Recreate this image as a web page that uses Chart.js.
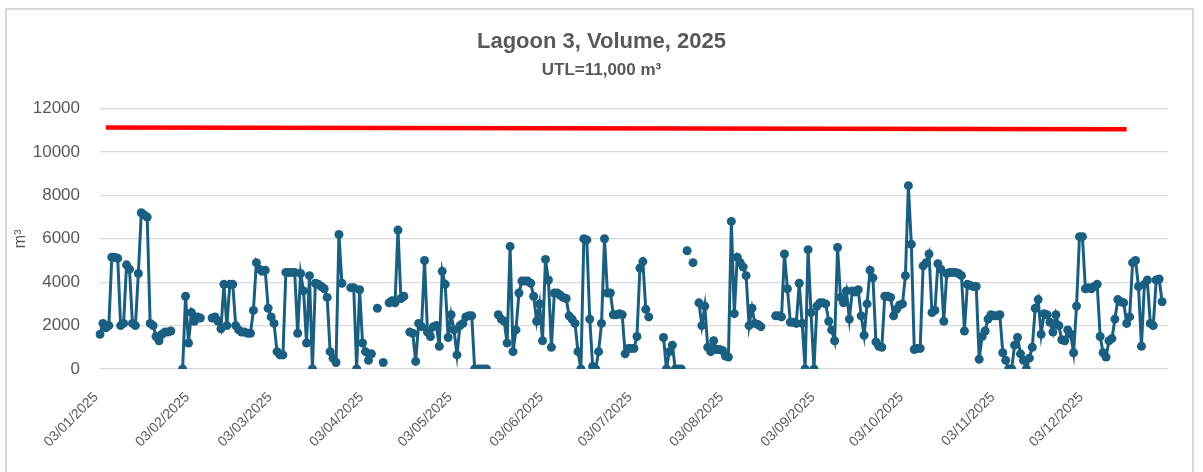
<!DOCTYPE html>
<html><head><meta charset="utf-8">
<script src="https://cdn.jsdelivr.net/npm/chart.js@4.4.1/dist/chart.umd.min.js"></script>
<style>
html,body{margin:0;padding:0;background:#fff;}
#wrap{position:relative;width:1203px;height:472px;overflow:hidden;}
#frame{position:absolute;left:5px;top:8px;width:1189px;height:480px;border:2px solid #d9d9d9;pointer-events:none;box-sizing:border-box;}
canvas{position:absolute;left:0;top:0;}
</style></head><body>
<div id="wrap"><canvas id="c" width="1203" height="472"></canvas><div id="frame"></div></div>
<script>
// ---- data ----
const chartTitle = 'Lagoon 3, Volume, 2025';
const chartSubtitle = 'UTL=11,000 m³';
const yAxisTitle = 'm³';
const axisStartYear = 2025, axisStartMonth = 1, axisStartDay = 3, axisDayCount = 363;
const monthTickLabels = ['03/01/2025','03/02/2025','03/03/2025','03/04/2025','03/05/2025','03/06/2025',
  '03/07/2025','03/08/2025','03/09/2025','03/10/2025','03/11/2025','03/12/2025'];
const yTicks = [0, 2000, 4000, 6000, 8000, 10000, 12000];
// daily volume (m3), starting 03/01/2025, null = no reading
const volumeM3 = [
  1600,2100,1900,2000,5150,5150,5100,2000,2100,4800,
  4600,2100,2000,4400,7200,7100,7000,2100,2000,1500,
  1300,1600,1700,1700,1750,null,null,null,0,3350,
  1200,2600,2200,2400,2350,null,null,null,2350,2400,
  2200,1850,3900,2000,3900,3900,2000,1800,1700,1700,
  1650,1650,2700,4900,4600,4500,4550,2800,2400,2100,
  800,650,650,4450,4450,4450,4450,1650,4400,3600,
  1200,4300,0,3950,3900,3800,3700,3300,800,500,
  300,6200,3950,null,null,3750,3750,0,3650,1200,
  800,400,700,null,2800,null,300,null,3050,3150,
  3050,6400,3250,3350,null,1700,1650,350,2100,1950,
  5000,1700,1500,1950,2000,1050,4500,3900,1450,2500,
  1800,650,2000,2100,2400,2450,2450,0,0,0,
  0,0,null,null,null,2500,2300,2200,1200,5650,
  800,1800,3500,4050,4050,4050,3950,3350,2200,3000,
  1300,5050,4100,1000,3500,3500,3400,3300,3250,2450,
  2300,2100,800,0,6000,5950,2300,120,0,800,
  2100,6000,3500,3500,2500,2500,2550,2500,700,950,
  950,950,1500,4650,4950,2750,2400,null,null,null,
  null,1450,0,800,1100,0,0,0,null,5450,
  null,4900,null,3050,2000,2900,1000,800,1300,900,
  900,850,600,550,6800,2550,5150,4900,4700,4300,
  2000,2800,2100,2050,1950,null,null,null,null,2450,
  2450,2400,5300,3700,2150,2150,2100,3950,2100,0,
  5500,2600,0,2900,3050,3050,3000,2200,1800,1300,
  5600,3300,3050,3600,2300,3600,3550,3650,2450,1550,
  3000,4550,4200,1250,1050,1000,3350,3350,3300,2450,
  2750,2950,3000,4300,8450,5750,900,950,950,4750,
  4900,5300,2600,2700,4850,4600,2200,4400,4450,4450,
  4450,4400,4300,1750,3900,3850,3800,3800,450,1500,
  1750,2300,2500,2450,2450,2500,750,400,0,0,
  1100,1450,700,400,0,500,1000,2800,3200,1600,
  2550,2500,2150,1700,2500,2000,1350,1300,1800,1600,
  750,2900,6100,6100,3700,3750,3700,3800,3900,1500,
  750,550,1300,1400,2300,3200,3100,3050,2100,2400,
  4900,5000,3800,1050,3900,4100,2100,2000,4100,4150,
  3100
];
// UTL reference line as drawn (start / end)
const utlDates = ['05/01/2025', '17/12/2025'];
const utlValues = [11130, 11050];

// ---- build categories ----
const pad2 = n => String(n).padStart(2, '0');
const categories = [];
for (let i = 0; i < axisDayCount; i++) {
  const d = new Date(Date.UTC(axisStartYear, axisStartMonth - 1, axisStartDay + i));
  categories.push(pad2(d.getUTCDate()) + '/' + pad2(d.getUTCMonth() + 1) + '/' + d.getUTCFullYear());
}

const FONT = '"Liberation Sans", Arial, "DejaVu Sans", sans-serif';
const GREY = '#595959';
const BLUE = '#1A5F80';

// centre title blocks over the whole canvas (as in the original chart)
const centerTitles = {
  id: 'centerTitles',
  afterLayout(chart) {
    chart.boxes.forEach(b => {
      if (b.position === 'top' && b.options && b.options.text !== undefined) {
        b.left = 0; b.right = chart.width; b.width = chart.width;
      }
    });
  }
};

new Chart(document.getElementById('c'), {
  type: 'line',
  data: {
    labels: categories,
    datasets: [
      {
        label: 'Volume',
        data: volumeM3,
        borderColor: BLUE,
        backgroundColor: BLUE,
        borderWidth: 3,
        pointRadius: 4.5,
        pointBorderWidth: 0,
        pointBackgroundColor: BLUE,
        spanGaps: false,
        tension: 0
      },
      {
        label: 'UTL',
        data: utlDates.map((d, i) => ({ x: d, y: utlValues[i] })),
        borderColor: '#FF0000',
        borderWidth: 4.5,
        pointRadius: 0,
        spanGaps: true,
        tension: 0
      }
    ]
  },
  plugins: [centerTitles],
  options: {
    responsive: false,
    animation: false,
    layout: { padding: { top: 10, left: 0, right: 35, bottom: 0 } },
    plugins: {
      legend: { display: false },
      tooltip: { enabled: false },
      title: {
        display: true, text: chartTitle, color: GREY,
        font: { family: FONT, size: 22, weight: 'bold' },
        padding: { top: 18.8, bottom: 0 }
      },
      subtitle: {
        display: true, text: chartSubtitle, color: GREY,
        font: { family: FONT, size: 17, weight: 'bold' },
        padding: { top: 5, bottom: 28 }
      }
    },
    scales: {
      x: {
        type: 'category',
        offset: false,
        grid: { display: false },
        border: { display: false },
        afterFit: s => { s.height = 103; },
        ticks: {
          autoSkip: false,
          minRotation: 45, maxRotation: 45,
          padding: 12,
          labelOffset: -4,
          color: GREY,
          font: { family: FONT, size: 14 },
          callback: function (v) {
            const l = this.getLabelForValue(v);
            return monthTickLabels.includes(l) ? l : '';
          }
        }
      },
      y: {
        min: 0, max: 12000,
        afterFit: s => { s.width = 100; },
        afterBuildTicks: s => { s.ticks = yTicks.map(v => ({ value: v })); },
        grid: { color: '#d9d9d9', lineWidth: 1.3, drawTicks: false },
        border: { display: false },
        ticks: {
          padding: 20, color: GREY, font: { family: FONT, size: 17 },
          callback: v => String(v)
        },
        title: {
          display: true, text: yAxisTitle, color: GREY,
          font: { family: FONT, size: 16 },
          padding: { top: 11, bottom: 0 }
        }
      }
    }
  }
});
</script>
</body></html>
